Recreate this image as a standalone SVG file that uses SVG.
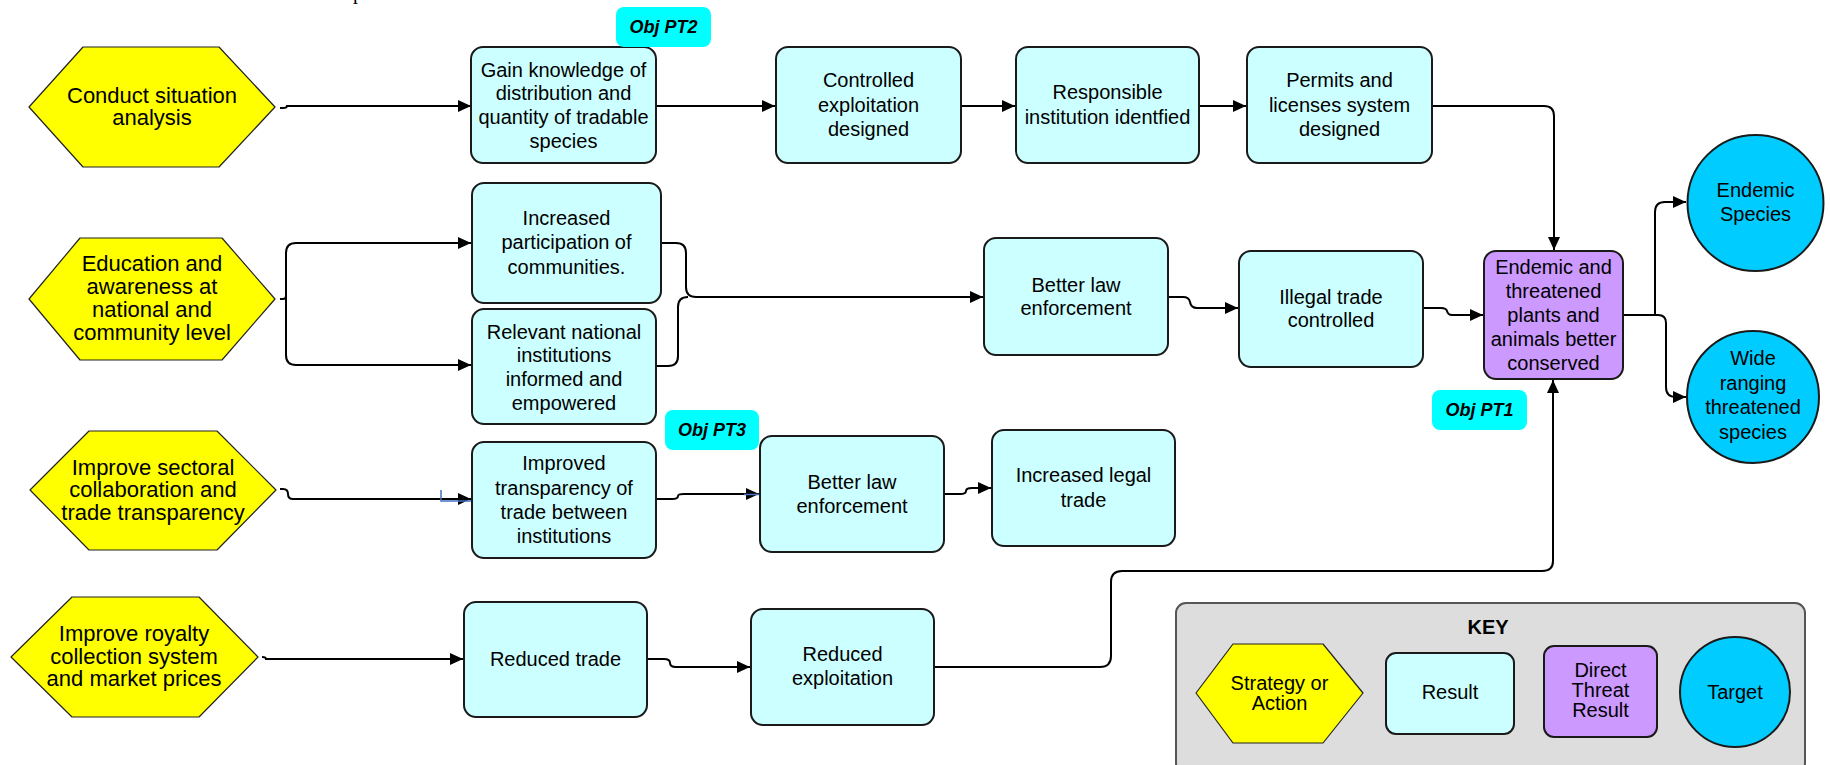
<svg xmlns="http://www.w3.org/2000/svg" width="1830" height="765" viewBox="0 0 1830 765">
  <style>
    text { font-family: "Liberation Sans", Arial, sans-serif; fill: #000; text-anchor: middle; }
    .hex { fill: #FFFF00; stroke: #222; stroke-width: 1.2; stroke-linejoin: round; }
    .res { fill: #CCFFFF; stroke: #1a1a1a; stroke-width: 2; }
    .thr { fill: #CC99FF; stroke: #1a1a1a; stroke-width: 2; }
    .tgt { fill: #00CCFF; stroke: #1a1a1a; stroke-width: 2; }
    .obj { fill: #00FFFF; }
    .t22 { font-size: 22px; }
    .t20 { font-size: 20px; }
    .objt { font-size: 18px; font-weight: bold; font-style: italic; }
    .conn path { fill: none; stroke: #000; stroke-width: 2; }
    .conn path.arr { marker-end: url(#arrow); }
    .stray { fill: none; stroke: #4472C4; stroke-width: 1.5; }
  </style>
  <defs>
    <marker id="arrow" markerUnits="userSpaceOnUse" markerWidth="14" markerHeight="14" refX="13" refY="6" orient="auto">
      <path d="M0,0 L13,6 L0,12 Z" fill="#000"/>
    </marker>
  </defs>

  <rect width="1830" height="765" fill="#fff"/>
  <text x="358" y="-1.5" style="font-family: 'Liberation Serif', serif; font-size: 20px;">p</text>

  <!-- connectors -->
  <g id="connectors" class="conn">
    <path class="arr" d="M280,108 L283,108 Q287,108 287,106 L471,106"/>
    <path class="arr" d="M656,106 L775,106"/>
    <path class="arr" d="M961,106 L1015,106"/>
    <path class="arr" d="M1199,106 L1246,106"/>
    <path class="arr" d="M1432,106 L1544,106 Q1554,106 1554,116 L1554,250"/>

    <path d="M280,299 L283,299 Q286,299 286,296"/>
    <path class="arr" d="M286,299 L286,253 Q286,243 296,243 L471,243"/>
    <path class="arr" d="M286,299 L286,355 Q286,365 296,365 L471,365"/>

    <path class="arr" d="M661,243 L676,243 Q686,243 686,253 L686,287 Q686,297 696,297 L983,297"/>
    <path d="M656,366 L668,366 Q678,366 678,356 L678,307 Q678,297 688,297"/>
    <path class="arr" d="M1168,297 L1183,297 Q1189,297 1190,302 Q1191,308 1197,308 L1238,308"/>
    <path class="arr" d="M1423,308 L1441,308 Q1446,308 1447,311 Q1448,315 1452,315 L1483,315"/>

    <path class="arr" d="M1623,315 L1655,315 L1655,212 Q1655,202 1665,202 L1686,202"/>
    <path class="arr" d="M1655,315 L1658,315 Q1666,315 1666,323 L1666,387 Q1666,397 1676,397 L1686,397"/>

    <path class="arr" d="M280,489 L283,489 Q288,489 288,494 Q288,499 293,499 L471,499"/>
    <path class="arr" d="M656,499 L672,499 Q678,499 678,496 Q678,494 684,494 L759,494"/>
    <path class="arr" d="M944,494 L960,494 Q966,494 966,491 Q966,488 972,488 L991,488"/>

    <path class="arr" d="M262,657 Q266,657 266,659 L463,659"/>
    <path class="arr" d="M647,659 L664,659 Q670,659 670,663 Q670,667 676,667 L750,667"/>
    <path class="arr" d="M934,667 L1100,667 Q1111,667 1111,656 L1111,582 Q1111,571 1122,571 L1542,571 Q1553,571 1553,561 L1553,380"/>
  </g>
  <path class="stray" d="M441,490 L441,501 L471,501"/>
  <path class="stray" d="M744,494.5 L759,494.5"/>

  <!-- strategies -->
  <g id="s-situation">
    <polygon class="hex" points="29,107 83,47 219,47 275,107 219,167 83,167"/>
    <text class="t22" x="152" y="103">Conduct situation</text>
    <text class="t22" x="152" y="125">analysis</text>
  </g>
  <g id="s-education">
    <polygon class="hex" points="29,299 80,238 222,238 275,299 222,360 80,360"/>
    <text class="t22" x="152" y="271">Education and</text>
    <text class="t22" x="152" y="294">awareness at</text>
    <text class="t22" x="152" y="317">national and</text>
    <text class="t22" x="152" y="340">community level</text>
  </g>
  <g id="s-sectoral">
    <polygon class="hex" points="30,490 89,431 217,431 276,490 217,550 89,550"/>
    <text class="t22" x="153" y="475">Improve sectoral</text>
    <text class="t22" x="153" y="497">collaboration and</text>
    <text class="t22" x="153" y="520">trade transparency</text>
  </g>
  <g id="s-royalty">
    <polygon class="hex" points="11,657 72,597 199,597 258,657 199,717 72,717"/>
    <text class="t22" x="134" y="641">Improve royalty</text>
    <text class="t22" x="134" y="664">collection system</text>
    <text class="t22" x="134" y="686">and market prices</text>
  </g>

  <!-- results -->
  <g id="r-knowledge">
    <rect class="res" x="471" y="47" width="185" height="116" rx="12"/>
    <text class="t20" x="563.5" y="77">Gain knowledge of</text>
    <text class="t20" x="563.5" y="100">distribution and</text>
    <text class="t20" x="563.5" y="124">quantity of tradable</text>
    <text class="t20" x="563.5" y="148">species</text>
  </g>
  <g id="r-controlled">
    <rect class="res" x="776" y="47" width="185" height="116" rx="12"/>
    <text class="t20" x="868.5" y="87">Controlled</text>
    <text class="t20" x="868.5" y="112">exploitation</text>
    <text class="t20" x="868.5" y="136">designed</text>
  </g>
  <g id="r-institution">
    <rect class="res" x="1016" y="47" width="183" height="116" rx="12"/>
    <text class="t20" x="1107.5" y="99">Responsible</text>
    <text class="t20" x="1107.5" y="124">institution identfied</text>
  </g>
  <g id="r-permits">
    <rect class="res" x="1247" y="47" width="185" height="116" rx="12"/>
    <text class="t20" x="1339.5" y="87">Permits and</text>
    <text class="t20" x="1339.5" y="112">licenses system</text>
    <text class="t20" x="1339.5" y="136">designed</text>
  </g>
  <g id="r-participation">
    <rect class="res" x="472" y="183" width="189" height="120" rx="12"/>
    <text class="t20" x="566.5" y="225">Increased</text>
    <text class="t20" x="566.5" y="249">participation of</text>
    <text class="t20" x="566.5" y="274">communities.</text>
  </g>
  <g id="r-national">
    <rect class="res" x="472" y="309" width="184" height="115" rx="12"/>
    <text class="t20" x="564" y="339">Relevant national</text>
    <text class="t20" x="564" y="362">institutions</text>
    <text class="t20" x="564" y="386">informed and</text>
    <text class="t20" x="564" y="410">empowered</text>
  </g>
  <g id="r-enforcement-1">
    <rect class="res" x="984" y="238" width="184" height="117" rx="12"/>
    <text class="t20" x="1076" y="292">Better law</text>
    <text class="t20" x="1076" y="315">enforcement</text>
  </g>
  <g id="r-illegal">
    <rect class="res" x="1239" y="251" width="184" height="116" rx="12"/>
    <text class="t20" x="1331" y="304">Illegal trade</text>
    <text class="t20" x="1331" y="327">controlled</text>
  </g>
  <g id="r-transparency">
    <rect class="res" x="472" y="442" width="184" height="116" rx="12"/>
    <text class="t20" x="564" y="470">Improved</text>
    <text class="t20" x="564" y="495">transparency of</text>
    <text class="t20" x="564" y="519">trade between</text>
    <text class="t20" x="564" y="543">institutions</text>
  </g>
  <g id="r-enforcement-2">
    <rect class="res" x="760" y="436" width="184" height="116" rx="12"/>
    <text class="t20" x="852" y="489">Better law</text>
    <text class="t20" x="852" y="513">enforcement</text>
  </g>
  <g id="r-legal">
    <rect class="res" x="992" y="430" width="183" height="116" rx="12"/>
    <text class="t20" x="1083.5" y="482">Increased legal</text>
    <text class="t20" x="1083.5" y="507">trade</text>
  </g>
  <g id="r-reduced-trade">
    <rect class="res" x="464" y="602" width="183" height="115" rx="12"/>
    <text class="t20" x="555.5" y="666">Reduced trade</text>
  </g>
  <g id="r-reduced-exploitation">
    <rect class="res" x="751" y="609" width="183" height="116" rx="12"/>
    <text class="t20" x="842.5" y="661">Reduced</text>
    <text class="t20" x="842.5" y="685">exploitation</text>
  </g>

  <!-- direct threat result -->
  <g id="t-conserved">
    <rect class="thr" x="1484" y="251" width="139" height="128" rx="12"/>
    <text class="t20" x="1553.5" y="274">Endemic and</text>
    <text class="t20" x="1553.5" y="298">threatened</text>
    <text class="t20" x="1553.5" y="322">plants and</text>
    <text class="t20" x="1553.5" y="346">animals better</text>
    <text class="t20" x="1553.5" y="370">conserved</text>
  </g>

  <!-- targets -->
  <g id="g-endemic">
    <circle class="tgt" cx="1755.5" cy="203" r="68"/>
    <text class="t20" x="1755.5" y="197">Endemic</text>
    <text class="t20" x="1755.5" y="221">Species</text>
  </g>
  <g id="g-wide">
    <circle class="tgt" cx="1753" cy="397" r="66"/>
    <text class="t20" x="1753" y="365">Wide</text>
    <text class="t20" x="1753" y="390">ranging</text>
    <text class="t20" x="1753" y="414">threatened</text>
    <text class="t20" x="1753" y="439">species</text>
  </g>

  <!-- objective tags -->
  <g id="obj-pt2">
    <rect class="obj" x="616" y="7" width="95" height="40" rx="8"/>
    <text class="objt" x="663.5" y="33">Obj PT2</text>
  </g>
  <g id="obj-pt3">
    <rect class="obj" x="665" y="410" width="94" height="40" rx="8"/>
    <text class="objt" x="712" y="436">Obj PT3</text>
  </g>
  <g id="obj-pt1">
    <rect class="obj" x="1432" y="390" width="95" height="40" rx="8"/>
    <text class="objt" x="1479.5" y="416">Obj PT1</text>
  </g>

  <!-- legend -->
  <g id="key">
    <rect x="1176" y="603" width="629" height="170" rx="10" fill="#DDDDDD" stroke="#555" stroke-width="2"/>
    <text class="t20" x="1488" y="634" font-weight="bold">KEY</text>
    <polygon class="hex" points="1196,693 1233,644 1323,644 1363,693 1323,743 1233,743"/>
    <text class="t20" x="1279.5" y="690">Strategy or</text>
    <text class="t20" x="1279.5" y="710">Action</text>
    <rect class="res" x="1386" y="653" width="128" height="81" rx="10" stroke-width="1.5"/>
    <text class="t20" x="1450" y="699">Result</text>
    <rect class="thr" x="1544" y="646" width="113" height="91" rx="10" stroke-width="1.5"/>
    <text class="t20" x="1600.5" y="677">Direct</text>
    <text class="t20" x="1600.5" y="697">Threat</text>
    <text class="t20" x="1600.5" y="717">Result</text>
    <ellipse class="tgt" cx="1735" cy="692" rx="55" ry="55"/>
    <text class="t20" x="1735" y="699">Target</text>
  </g>
</svg>
